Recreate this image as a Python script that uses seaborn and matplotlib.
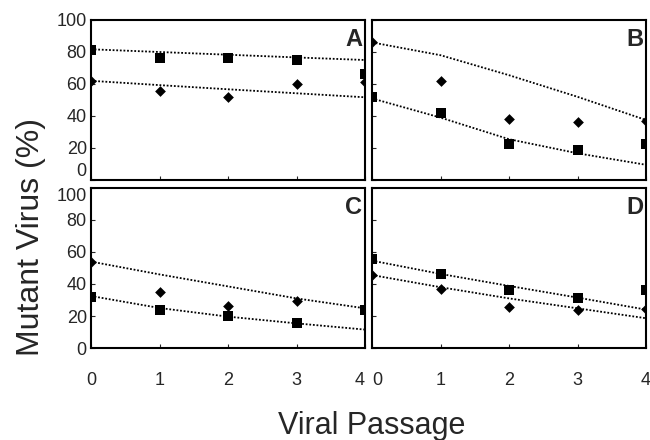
import numpy as np
import pandas as pd
import matplotlib
matplotlib.use("Agg")
import matplotlib.pyplot as plt
import seaborn as sns

# Dados (% de vírus mutante por passagem viral)
passage = [0, 1, 2, 3, 4]
panels = ["A", "B", "C", "D"]

a_square = [81, 76.5, 76, 75, 66.5]
a_diamond = [62, 55.5, 52, 60, 61.5]
a_fit_square = [81.7, 80, 78.3, 76.6, 75]
a_fit_diamond = [62, 59.3, 56.7, 54.2, 51.7]

b_square = [52, 42, 22.5, 19, 22.5]
b_diamond = [86, 62, 38, 36, 37]
b_fit_square = [51, 39, 25.5, 16.7, 9.5]
b_fit_diamond = [86, 78, 65.5, 52, 37.5]

c_square = [32, 24, 20, 15.5, 23.5]
c_diamond = [54, 35, 26, 29.5, 24]
c_fit_square = [32.5, 25, 19.6, 15.4, 11.5]
c_fit_diamond = [54, 46, 38.5, 31, 24.8]

d_square = [55.5, 46, 36, 31, 36.5]
d_diamond = [45.5, 37, 25.5, 23.5, 24.5]
d_fit_square = [54.6, 46.3, 38.8, 31.5, 24]
d_fit_diamond = [45.6, 38, 31, 24.8, 18.6]

dados = {
    "A": (a_square, a_diamond, a_fit_square, a_fit_diamond),
    "B": (b_square, b_diamond, b_fit_square, b_fit_diamond),
    "C": (c_square, c_diamond, c_fit_square, c_fit_diamond),
    "D": (d_square, d_diamond, d_fit_square, d_fit_diamond),
}

sns.set_style("ticks", {"xtick.direction": "in", "ytick.direction": "in"})
plt.rcParams['font.family'] = ['Liberation Sans', 'DejaVu Sans']

fig = plt.figure(figsize=(6.5, 4.4), dpi=100)
W, H = 650, 440
boxes = {"A": (91, 20), "B": (372, 20), "C": (91, 188), "D": (372, 188)}
aw, ah = 274, 160

for p in panels:
    x0, y0 = boxes[p]
    ax = fig.add_axes([x0 / W, (H - y0 - ah) / H, aw / W, ah / H])
    sq, di, fsq, fdi = dados[p]
    df = pd.DataFrame({"passage": passage, "square": sq, "diamond": di,
                       "fit_square": fsq, "fit_diamond": fdi})

    sns.lineplot(data=df, x="passage", y="fit_square", ax=ax, color="black",
                 lw=1.3, linestyle=(0, (1, 1)))
    sns.lineplot(data=df, x="passage", y="fit_diamond", ax=ax, color="black",
                 lw=1.3, linestyle=(0, (1, 1)))
    sns.scatterplot(data=df, x="passage", y="square", ax=ax, marker="s",
                    s=60, color="black", edgecolor="black", linewidth=0)
    sns.scatterplot(data=df, x="passage", y="diamond", ax=ax, marker="D",
                    s=30, color="black", edgecolor="black", linewidth=0)

    ax.set_xlim(0, 4)
    ax.set_ylim(0, 100)
    ax.set_xticks(passage)
    ax.set_yticks([0, 20, 40, 60, 80, 100])
    ax.set_xlabel("")
    ax.set_ylabel("")
    ax.tick_params(length=3, width=0.8, labelsize=13, pad=3)
    if p in ("B", "D"):
        ax.set_yticklabels([])
    if p in ("A", "B"):
        ax.set_xticklabels([])
    else:
        ax.tick_params(axis="x", pad=17)
    # rótulos extremos afastados para não se sobreporem
    if p == "A":
        ax.get_yticklabels()[0].set_va("bottom")
    if p == "C":
        ax.get_yticklabels()[-1].set_va("top")
        ax.get_xticklabels()[-1].set_ha("right")
    if p == "D":
        ax.get_xticklabels()[0].set_ha("left")
    for s in ax.spines.values():
        s.set_linewidth(1.5)
        s.set_color("black")
    ax.text(0.99, 0.95, p, transform=ax.transAxes, ha="right", va="top",
            fontsize=17, fontweight="bold")

fig.text(31 / W, 1 - 237 / H, "Mutant Virus (%)", rotation=90,
         ha="center", va="center", fontsize=23)
fig.text(372 / W, 1 - 426 / H, "Viral Passage", ha="center", va="center",
         fontsize=22)

fig.savefig("out.png", dpi=100)
